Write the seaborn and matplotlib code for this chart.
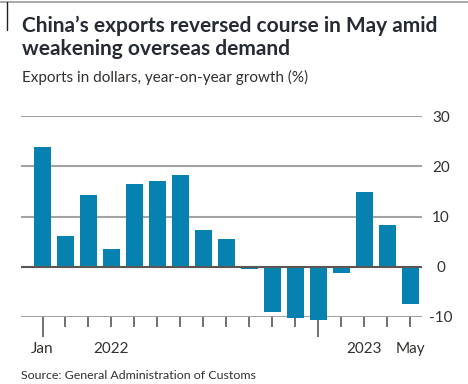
import matplotlib
matplotlib.use("Agg")
import matplotlib.pyplot as plt
import seaborn as sns
import pandas as pd
from matplotlib.lines import Line2D

months = ["Jan 2022", "Feb 2022", "Mar 2022", "Apr 2022", "May 2022", "Jun 2022",
          "Jul 2022", "Aug 2022", "Sep 2022", "Oct 2022", "Nov 2022", "Dec 2022",
          "Jan 2023", "Feb 2023", "Mar 2023", "Apr 2023", "May 2023"]
growth = [23.8, 6.1, 14.2, 3.5, 16.4, 17.1, 18.2, 7.4, 5.5, -0.5, -9.1, -10.2,
          -10.5, -1.3, 14.8, 8.4, -7.5]
y_ticks = [-10, 0, 10, 20, 30]
x_labels = {"Jan": "Jan 2022", "2022": "Apr 2022", "2023": "Mar 2023", "May": "May 2023"}
year_starts = ["Jan 2022", "Jan 2023"]

title = "China\u2019s exports reversed course in May amid\nweakening overseas demand"
subtitle = "Exports in dollars, year-on-year growth (%)"
source = "Source: General Administration of Customs"

sns.set_theme(style="white")
plt.rcParams["font.family"] = ["Lato", "DejaVu Sans"]

W, H = 468, 384
fig = plt.figure(figsize=(W / 100, H / 100), dpi=100, facecolor="white")
ax = fig.add_axes([21 / W, (H - 317) / H, (422 - 21) / W, (317 - 116) / H])

df = pd.DataFrame({"month": months, "growth": growth})
sns.barplot(data=df, x="month", y="growth", order=months, color="#0782b0",
            saturation=1, width=0.74, ax=ax, zorder=2)
for p in ax.patches:
    p.set_clip_on(False)
    p.set_edgecolor("none")

pos = {m: i for i, m in enumerate(months)}
ax.set_xlim(-0.936, len(months) - 1 + 0.52)
ax.set_ylim(-10, 30)

for v in y_ticks:
    if v == 0:
        ax.axhline(v, color="#5a5653", lw=1.5, zorder=3)
    else:
        ax.axhline(v, color="#a3a3a3", lw=1.5, zorder=1)

for s in ax.spines.values():
    s.set_visible(False)

# y tick labels on right
ax.yaxis.tick_right()
ax.set_yticks(y_ticks)
ax.set_yticklabels([str(v) for v in y_ticks])
ax.tick_params(axis="y", length=0, pad=13.7, labelsize=11, labelcolor="#33302e")
for t in ax.get_yticklabels():
    t.set_horizontalalignment("center")

# x ticks: short minor, long at year starts
major = [pos[m] for m in year_starts]
minor = [i for i in range(len(months)) if i not in major]
ax.set_xticks(major)
ax.set_xticklabels([""] * len(major))
ax.set_xticks(minor, minor=True)
ax.tick_params(axis="x", which="major", length=14.4, width=1.1, color="#4d4845",
               direction="out", bottom=True)
ax.tick_params(axis="x", which="minor", length=7.2, width=1.1, color="#4d4845",
               direction="out", bottom=True)
ax.set_xlabel("")
ax.set_ylabel("")

for lab, m in x_labels.items():
    ax.text(pos[m], -10 - 25 / 5.02, lab, ha="center", va="top",
            fontsize=11, color="#33302e")

fig.text(22 / W, 1 - 32 / H, title.split("\n")[0], fontsize=15, fontweight="bold",
         color="#262a33", ha="left", va="baseline")
fig.text(22 / W, 1 - 55 / H, title.split("\n")[1], fontsize=15, fontweight="bold",
         color="#262a33", ha="left", va="baseline")
fig.text(22 / W, 1 - 82 / H, subtitle, fontsize=11, color="#33302e",
         ha="left", va="baseline")
fig.text(21 / W, 1 - 379 / H, source, fontsize=8.9, color="#33302e",
         ha="left", va="baseline")

# frame decoration at top
fig.add_artist(Line2D([0, 1], [1 - 1.5 / H, 1 - 1.5 / H], color="#9a9a9a", lw=1.2))
fig.add_artist(Line2D([7 / W, 7 / W], [1 - 2 / H, 1 - 30 / H], color="#222222", lw=1.0))

fig.savefig("out.png", dpi=100, facecolor="white")
